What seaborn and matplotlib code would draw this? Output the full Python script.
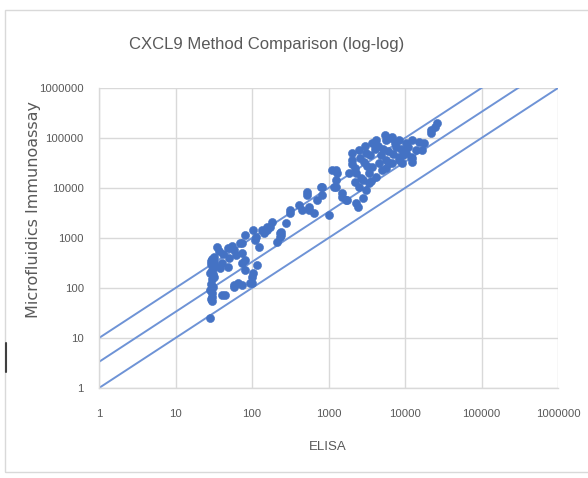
import matplotlib
matplotlib.use("Agg")
import matplotlib.pyplot as plt
import seaborn as sns
import pandas as pd
from matplotlib.lines import Line2D
from matplotlib.patches import Rectangle

# ---- data ----
elisa = [28, 29, 30, 30, 31, 29, 30, 32, 28, 30, 31, 29, 32, 30, 32, 29, 33, 31, 28, 30,
         35, 37, 40, 38, 44, 42, 48, 48, 50, 55, 59, 59, 65, 62, 70, 75, 73, 75, 80, 80,
         80, 93, 102, 108, 102, 114, 125, 137, 145, 155, 180, 215, 230, 240, 240, 280, 310,
         415, 455, 530, 560, 650, 715, 805, 830, 1020, 1190, 1300, 1510, 1700, 1120, 1260,
         1500, 1750, 2300, 2400, 2800, 2050, 2050, 2500, 3100, 3700, 4200, 5700, 6600, 7700,
         2300, 2800, 3400, 3700, 4600, 5700, 2500, 3100, 3400, 1870, 4200, 5000, 6200, 8300,
         6800, 8300, 10300, 12500, 15300, 17700, 14000, 16600, 12500, 10300, 8300, 6800, 5700,
         12500, 22000, 26000, 25000, 115, 230, 170, 155, 310, 530, 560, 1260, 1260, 830,
         2000, 2200, 2600, 2900, 3200, 3500, 4000, 4500, 3000, 2700, 2200, 3600, 4800, 5200,
         6000, 7000, 9000, 11000, 9500, 7500, 5500, 9200, 12000, 22000, 99, 99, 41, 59, 75]
micro = [25, 60, 66, 80, 105, 120, 150, 165, 200, 230, 260, 300, 330, 380, 420, 350, 280, 190, 90, 55,
         660, 550, 315, 250, 72, 480, 630, 260, 400, 700, 575, 115, 125, 450, 800, 790, 500, 315, 1150, 365,
         230, 125, 200, 910, 1450, 1050, 660, 1450, 1250, 1660, 2090, 830, 1050, 1150, 1320, 2000, 3160,
         4570, 3630, 7240, 4170, 3160, 5750, 10500, 7240, 2880, 10500, 20000, 8000, 5750, 23000, 10500,
         6600, 5750, 5000, 4170, 6300, 36000, 50000, 57000, 50000, 80000, 90000, 90000, 100000, 66000,
         20000, 14500, 20000, 26000, 31000, 36000, 10500, 9100, 12600, 20000, 16600, 23000, 31000, 42000,
         105000, 90000, 80000, 90000, 83000, 80000, 57000, 57000, 40000, 50000, 36000, 31000, 25000,
         33000, 145000, 200000, 165000, 290, 1250, 1660, 1450, 3630, 8300, 3630, 23000, 14500, 10500,
         30000, 25000, 40000, 33000, 28000, 45000, 60000, 70000, 70000, 16000, 13000, 14000, 45000, 60000,
         55000, 48000, 60000, 65000, 45000, 80000, 115000, 31000, 42000, 125000, 165, 125, 72, 105, 115]

ref_ratios = [1, 3.33, 10]          # reference lines y = r * x
ref_x = [1, 1000000]
ticks = [1, 10, 100, 1000, 10000, 100000, 1000000]
tick_labels = ["1", "10", "100", "1000", "10000", "100000", "1000000"]

df = pd.DataFrame({"ELISA": elisa, "Micro": micro})

sns.set_theme(style="white")
plt.rcParams["font.family"] = ["Liberation Sans", "DejaVu Sans"]

W, H = 588, 478
fig = plt.figure(figsize=(W / 100, H / 100), dpi=100)
fig.patch.set_facecolor("white")
ax = fig.add_axes([99 / W, 1 - 388 / H, (558 - 99) / W, (388 - 88) / H])

blue = "#4472C4"
line_blue = "#6E93D6"
for r in ref_ratios:
    ax.plot(ref_x, [r * v for v in ref_x], color=line_blue, lw=1.4, zorder=2)

sns.scatterplot(data=df, x="ELISA", y="Micro", ax=ax, color=blue, s=34,
                edgecolor=blue, linewidth=0.4, zorder=3, legend=False)

ax.set_xscale("log")
ax.set_yscale("log")
ax.set_xlim(1, 1000000)
ax.set_ylim(1, 1000000)
ax.set_xticks(ticks)
ax.set_xticklabels(tick_labels)
ax.set_yticks(ticks)
ax.set_yticklabels(tick_labels)
ax.minorticks_off()
ax.grid(True, color="#D9D9D9", lw=1.0)
ax.set_axisbelow(True)
for s in ["top", "right"]:
    ax.spines[s].set_visible(False)
for s in ["left", "bottom"]:
    ax.spines[s].set_color("#D9D9D9")
    ax.spines[s].set_linewidth(1.0)
ax.tick_params(axis="both", length=0, labelsize=8.2, colors="#595959")
ax.tick_params(axis="x", pad=15)
ax.tick_params(axis="y", pad=11)
ax.set_xlabel("")
ax.set_ylabel("")

fig.text(328 / W, 1 - 447 / H, "ELISA", ha="center", va="center",
         fontsize=9.5, color="#595959")
fig.text(34 / W, 1 - 210 / H, "Microfluidics Immunoassay", ha="center", va="center",
         rotation=90, fontsize=11.5, color="#595959", family=["DejaVu Sans"])
fig.text(267 / W, 1 - 45 / H, "CXCL9 Method Comparison (log-log)", ha="center",
         va="center", fontsize=12, color="#595959")

# chart frame and small artifact on the left
fig.patches.append(Rectangle((5 / W, 1 - 472 / H), 1.0, (472 - 10) / H,
                             transform=fig.transFigure, fill=False,
                             edgecolor="#D9D9D9", lw=1.0))
fig.lines.append(Line2D([6 / W, 6 / W], [1 - 343 / H, 1 - 372 / H],
                        transform=fig.transFigure, color="#404040", lw=1.5))

fig.savefig("out.png", dpi=100)
